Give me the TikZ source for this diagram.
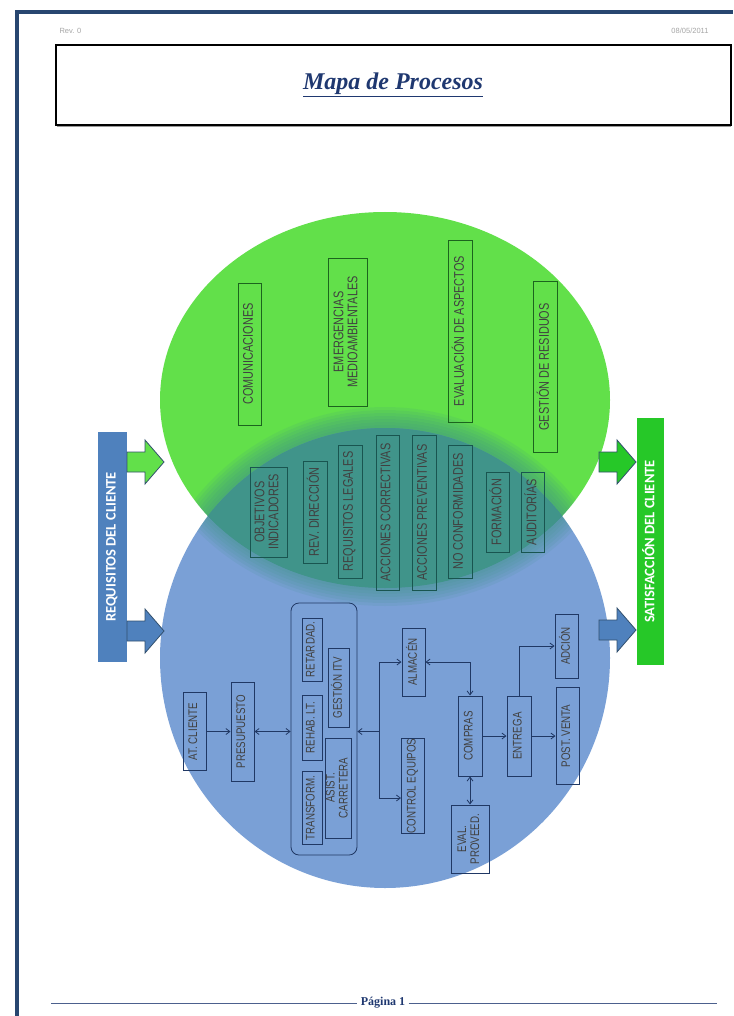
\documentclass[tikz,border=0pt]{standalone}
\usepackage{fontspec}
\setmainfont{Liberation Serif}
\newfontfamily\boxfont[FakeStretch=0.78]{Liberation Sans}
\newfontfamily\barfont{Carlito}
\newfontfamily\headfont{Liberation Sans}
\usetikzlibrary{arrows.meta}

\definecolor{framblue}{RGB}{40,70,112}
\definecolor{circgreen}{RGB}{98,224,74}
\definecolor{circblue}{RGB}{122,160,214}
\definecolor{lensteal}{RGB}{64,148,138}
\definecolor{reqblue}{RGB}{79,129,189}
\definecolor{satgreen}{RGB}{38,200,40}
\definecolor{arrline}{RGB}{50,80,110}
\definecolor{boxgreen}{RGB}{28,100,30}
\definecolor{boxteal}{RGB}{25,85,80}
\definecolor{boxblue}{RGB}{32,56,100}
\definecolor{titleblue}{RGB}{31,56,112}

% text turned to read upwards
\newcommand{\vtext}[1]{\rotatebox{90}{\begin{tabular}{@{}c@{}}#1\end{tabular}}}
% block arrow: tail x, centre y, fill
\newcommand{\blockarr}[3]{%
  \draw[arrline, line width=0.8pt, fill=#3] (#1,#2-10) -- (#1+18,#2-10) -- (#1+18,#2-22) -- (#1+37,#2)
    -- (#1+18,#2+22) -- (#1+18,#2+10) -- (#1,#2+10) -- cycle;}

\begin{document}
\begin{tikzpicture}[x=1pt, y=-1pt,
    procg/.style={draw=boxgreen, line width=0.8pt, inner sep=0pt, text=black!75, font=\boxfont\fontsize{14}{14}\selectfont},
    procl/.style={procg, draw=boxteal},
    procb/.style={procg, draw=boxblue, line width=1pt, font=\boxfont\fontsize{12.5}{13}\selectfont},
    conn/.style={boxblue, line width=0.8pt, -{Straight Barb[length=4pt,width=6pt]}},
    conn2/.style={conn, {Straight Barb[length=4pt,width=6pt]}-{Straight Barb[length=4pt,width=6pt]}}]
    \useasboundingbox (0,0) rectangle (733,1016);
    \fill[white] (0,0) rectangle (733,1016);

    % page frame
    \draw[framblue, line width=4pt] (17,1016) -- (17,12) -- (733,12);
    \node[font=\headfont\fontsize{7.5}{8}\selectfont, text=black!35, anchor=west] (rev) at (56,31) {Rev. 0};
    \node[font=\headfont\fontsize{7.5}{8}\selectfont, text=black!35, anchor=east] (fecha) at (712,31) {08/05/2011};
    \draw[black!40, line width=3pt] (57,126) -- (731,126);
    \node[draw, line width=2pt, minimum width=675, minimum height=80, text=titleblue,
          font=\fontsize{24}{26}\selectfont\bfseries\itshape] (tit) at (393,85) {\underline{Mapa de Procesos}};

    % circles
    \def\gx{385}
    \def\gy{400}
    \def\bx{385}
    \def\by{658}
    \fill[circgreen] (\gx,\gy) ellipse [x radius=225pt, y radius=188pt];
    \fill[circblue] (\bx,\by) ellipse [x radius=225pt, y radius=230pt];
    % overlap, soft edges
    \begin{scope}
      \clip (\gx,\gy) ellipse [x radius=225pt, y radius=188pt];
      \fill[lensteal] (\bx,\by) ellipse [x radius=225pt, y radius=230pt];
      \foreach \w in {6,12,...,42}
        \draw[lensteal, opacity=0.12, line width=\w pt] (\bx,\by) ellipse [x radius=225pt, y radius=230pt];
    \end{scope}
    \begin{scope}
      \clip (\bx,\by) ellipse [x radius=225pt, y radius=230pt];
      \foreach \w in {6,12,...,36}
        \draw[lensteal, opacity=0.12, line width=\w pt] (\gx,\gy) ellipse [x radius=225pt, y radius=188pt];
    \end{scope}

    % side bars
    \node[fill=reqblue, minimum width=29, minimum height=230, inner sep=0pt, text=white,
          font=\barfont\fontsize{14.5}{15}\selectfont\bfseries] (req) at (112.5,547) {\vtext{REQUISITOS DEL CLIENTE}};
    \node[fill=satgreen, minimum width=27, minimum height=247, inner sep=0pt, text=white,
          font=\barfont\fontsize{14.5}{15}\selectfont\bfseries] (sat) at (650.5,541.5) {\vtext{SATISFACCIÓN DEL CLIENTE}};
    \blockarr{127}{462}{circgreen}
    \blockarr{127}{631}{reqblue}
    \blockarr{599}{462}{satgreen}
    \blockarr{599}{630}{reqblue}

    % environment processes
    \node[procg, minimum width=23, minimum height=142] (com) at (250,354) {\vtext{COMUNICACIONES}};
    \node[procg, minimum width=39, minimum height=148] (emer) at (347.5,332) {\vtext{EMERGENCIAS\\MEDIOAMBIENTALES}};
    \node[procg, minimum width=24, minimum height=182] (evasp) at (460,331) {\vtext{EVALUACIÓN DE ASPECTOS}};
    \node[procg, minimum width=24, minimum height=171] (gres) at (545,367) {\vtext{GESTIÓN DE RESIDUOS}};

    % common processes
    \node[procl, minimum width=37, minimum height=90] (obj) at (268.5,512) {\vtext{OBJETIVOS\\INDICADORES}};
    \node[procl, minimum width=24, minimum height=102] (revd) at (315,512) {\vtext{REV. DIRECCIÓN}};
    \node[procl, minimum width=24, minimum height=133] (reql) at (350,511.5) {\vtext{REQUISITOS LEGALES}};
    \node[procl, minimum width=23, minimum height=155] (acor) at (387.5,512.5) {\vtext{ACCIONES CORRECTIVAS}};
    \node[procl, minimum width=24, minimum height=155] (aprev) at (424,512.5) {\vtext{ACCIONES PREVENTIVAS}};
    \node[procl, minimum width=24, minimum height=133] (ncon) at (460,511.5) {\vtext{NO CONFORMIDADES}};
    \node[procl, minimum width=23, minimum height=80] (form) at (497.5,512) {\vtext{FORMACIÓN}};
    \node[procl, minimum width=23, minimum height=80] (audit) at (532.5,512) {\vtext{AUDITORÍAS}};

    % quality processes
    \node[procb, minimum width=23, minimum height=78] (atc) at (194.5,731.5) {\vtext{AT. CLIENTE}};
    \node[procb, minimum width=23, minimum height=99] (pres) at (242.5,731.5) {\vtext{PRESUPUESTO}};
    \node[draw=boxblue, line width=0.8pt, rounded corners=8pt, minimum width=66, minimum height=252] (serv) at (324,729) {};
    \node[procb, minimum width=20, minimum height=63] (retd) at (312,649.5) {\vtext{RETARDAD.}};
    \node[procb, minimum width=21, minimum height=79] (gitv) at (338.5,687.5) {\vtext{GESTIÓN ITV}};
    \node[procb, minimum width=20, minimum height=65] (rehab) at (312,727.5) {\vtext{REHAB. LT.}};
    \node[procb, minimum width=20, minimum height=73] (transf) at (312,808) {\vtext{TRANSFORM.}};
    \node[procb, minimum width=21, minimum height=100] (asist) at (338.5,788) {\vtext{ASIST.\\CARRETERA}};
    \node[procb, minimum width=23, minimum height=68] (alm) at (413.5,662) {\vtext{ALMACÉN}};
    \node[procb, minimum width=23, minimum height=94] (ctrl) at (413,786) {\vtext{CONTROL EQUIPOS}};
    \node[procb, minimum width=24, minimum height=80] (comp) at (470,736) {\vtext{COMPRAS}};
    \node[procb, minimum width=24, minimum height=80] (entr) at (519,736) {\vtext{ENTREGA}};
    \node[procb, minimum width=23, minimum height=64] (adc) at (566.5,646) {\vtext{ADCIÓN}};
    \node[procb, minimum width=23, minimum height=97] (post) at (567.5,736) {\vtext{POST. VENTA}};
    \node[procb, minimum width=38, minimum height=68] (eval) at (470,839) {\vtext{EVAL.\\PROVEED.}};

    \coordinate (split) at (379,731.5);
    \draw[conn] (atc) -- (pres);
    \draw[conn2] (pres.east) -- (serv.west |- pres.east);
    \draw[conn] (split) -- (serv.east |- split);
    \draw[conn] (split) |- (alm.west);
    \draw[conn] (split) |- ([yshift=-12pt]ctrl.west);
    \draw[conn2] (alm.east) -| (comp.north);
    \draw[conn] (comp) -- (entr);
    \draw[conn] (entr.north) |- (adc.west);
    \draw[conn] (entr) -- (post);
    \draw[conn2] (comp) -- (eval);

    % footer
    \node[text=titleblue, font=\fontsize{12}{13}\selectfont\bfseries] (pag) at (383,1003) {Página 1};
    \coordinate (fl) at (51,1003);
    \coordinate (fr) at (717,1003);
    \draw[titleblue!80, line width=0.6pt] (fl) -- (pag.west);
    \draw[titleblue!80, line width=0.6pt] (pag.east) -- (fr);
\end{tikzpicture}
\end{document}
